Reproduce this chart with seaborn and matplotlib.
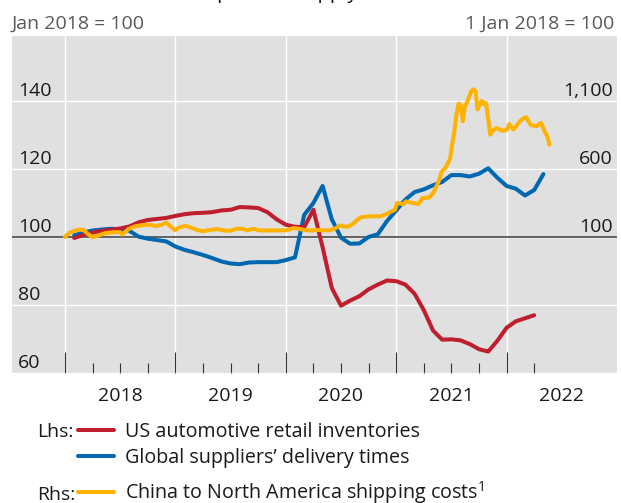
import matplotlib
matplotlib.use("Agg")
import matplotlib.pyplot as plt
import matplotlib.transforms as mtransforms
from matplotlib.lines import Line2D
import pandas as pd
import seaborn as sns

# Lhs series, monthly from Feb 2018 (Jan 2018 = 100)
auto_inventories = [99.7, 100.6, 101.3, 101.8, 102.1, 102.5, 103.1, 104.3, 105.0, 105.3,
                    105.6, 106.2, 106.7, 107.0, 107.1, 107.3, 107.8, 108.0, 108.8, 108.7,
                    108.5, 107.3, 105.2, 103.6, 103.0, 102.9, 108.0, 97.0, 85.0, 79.8,
                    81.3, 82.6, 84.6, 86.0, 87.2, 87.0, 86.0, 83.3, 78.5, 72.5,
                    69.8, 69.9, 69.6, 68.5, 67.0, 66.3, 69.5, 73.3, 75.2, 76.1, 77.0]
delivery_times = [100.5, 101.3, 101.9, 102.2, 102.4, 102.3, 101.8, 100.1, 99.5, 99.1,
                  98.7, 97.2, 96.2, 95.5, 94.7, 93.8, 92.8, 92.2, 92.0, 92.5,
                  92.6, 92.6, 92.6, 93.2, 94.0, 106.5, 110.0, 115.0, 105.2, 99.8,
                  98.0, 98.1, 100.0, 100.8, 104.7, 107.8, 111.0, 113.2, 114.0, 115.2,
                  116.2, 118.2, 118.2, 117.8, 118.6, 120.2, 117.4, 115.0, 114.2, 112.2,
                  113.8, 118.5]

# Rhs series, weekly (weeks since 1 Jan 2018), 1 Jan 2018 = 100
ship_week = [0, 2, 5, 7, 9, 11, 13, 16, 19, 23, 26, 27, 30, 33, 37, 40, 43, 46, 48, 50,
             52, 54, 57, 60, 63, 65, 68, 72, 75, 78, 81, 84, 86, 89, 92, 95, 98, 102, 105, 108,
             110, 112, 115, 117, 119, 121, 125, 128, 130, 132, 134, 136, 138, 140, 144, 146, 149, 152, 156, 157,
             160, 161, 164, 167, 169, 172, 174, 176, 177, 178, 180, 182, 183, 184, 185, 186, 187, 188, 189, 190,
             192, 193, 194, 195, 196, 197, 198, 199, 201, 202, 204, 207, 209, 210, 212, 215, 217, 218, 220, 221,
             223, 224, 225, 227, 228, 229]
ship_costs = [100, 130, 148, 155, 148, 120, 98, 112, 128, 135, 135, 118, 158, 178, 188, 190, 180, 192, 205, 175,
              150, 170, 182, 165, 150, 142, 150, 158, 148, 145, 160, 160, 148, 160, 148, 148, 148, 148, 150, 165,
              162, 155, 148, 148, 152, 150, 148, 165, 185, 175, 178, 195, 225, 245, 252, 252, 252, 270, 300, 350,
              340, 362, 350, 342, 388, 388, 422, 488, 525, 580, 612, 675, 780, 875, 1000, 1080, 1072, 950, 1062, 1090,
              1172, 1185, 1172, 1038, 1075, 1100, 1075, 1085, 852, 880, 900, 880, 890, 930, 890, 950, 975, 980, 925, 920,
              915, 930, 938, 865, 838, 778]

years = [2018, 2019, 2020, 2021, 2022]
lhs_ticks = [60, 80, 100, 120, 140]
rhs_ticks = [100, 600, 1100]

RED = "#be1e2d"
BLUE = "#0067b1"
YELLOW = "#ffb300"
GREY_BG = "#e0e0e0"

sns.set_theme(style="white")
plt.rcParams["font.family"] = ["Open Sans", "DejaVu Sans"]
plt.rcParams["mathtext.fontset"] = "custom"
plt.rcParams["mathtext.rm"] = "Open Sans"

months = pd.date_range("2018-02-01", periods=len(auto_inventories), freq="MS")
inv_df = pd.DataFrame({"x": months.year + (months.month - 1) / 12, "y": auto_inventories})
months_b = pd.date_range("2018-02-01", periods=len(delivery_times), freq="MS")
del_df = pd.DataFrame({"x": months_b.year + (months_b.month - 1) / 12, "y": delivery_times})
ship_df = pd.DataFrame({"x": [2018 + w * 7 / 365.25 for w in ship_week], "y": ship_costs})

W, H = 621, 503
fig = plt.figure(figsize=(W / 100, H / 100), dpi=100)
ax = fig.add_axes([12 / W, (H - 373) / H, 605 / W, 337 / H])
ax.set_facecolor(GREY_BG)
for s in ax.spines.values():
    s.set_visible(False)

lo, hi = 60, 159.1
ax.set_ylim(lo, hi)
ax.set_xlim(2017.52, 2023.0)

sns.lineplot(data=del_df, x="x", y="y", ax=ax, color=BLUE, lw=2.9, zorder=3)
sns.lineplot(data=inv_df, x="x", y="y", ax=ax, color=RED, lw=2.9, zorder=4)
ax.set_xlabel("")
ax.set_ylabel("")

ax2 = ax.twinx()
ax2.set_ylim(100 + (lo - 100) * 25, 100 + (hi - 100) * 25)
sns.lineplot(data=ship_df, x="x", y="y", ax=ax2, color=YELLOW, lw=2.9, zorder=5)
ax2.set_xlim(2017.52, 2023.0)
ax2.set_yticks([])
ax2.set_ylabel("")
for s in ax2.spines.values():
    s.set_visible(False)

# grid and ticks (after twinx, which resets the left ticks)
ax.set_yticks(lhs_ticks)
ax.set_xticks(years)
ax.set_xticks([y + q / 4 for y in years for q in (1, 2, 3) if y + q / 4 <= 2022.25], minor=True)
ax.grid(True, which="major", color="white", lw=1.0)
ax.set_axisbelow(True)
ax.tick_params(axis="y", which="both", left=False, right=False, labelleft=False, labelright=False)
ax2.tick_params(axis="both", which="both", left=False, right=False, bottom=False,
                labelleft=False, labelright=False, labelbottom=False)
ax.tick_params(axis="x", which="major", direction="in", length=15, width=0.8, color="#333333",
               labelbottom=False, bottom=True)
ax.tick_params(axis="x", which="minor", direction="in", length=7.3, width=0.8, color="#333333",
               bottom=True)
ax.axhline(100, color="#3a3a3a", lw=1.1, zorder=2)

# axis labels inside the panel
lab_off = mtransforms.offset_copy(ax.get_yaxis_transform(), fig=fig, x=0, y=5, units="dots")
for v in lhs_ticks:
    ax.text(6 / 605, v, str(v), transform=lab_off, ha="left", va="baseline",
            fontsize=14, color="#1a1a1a")
lab_off2 = mtransforms.offset_copy(ax2.get_yaxis_transform(), fig=fig, x=0, y=5, units="dots")
for v in rhs_ticks:
    ax2.text(601 / 605, v, f"{v:,}", transform=lab_off2, ha="right", va="baseline",
             fontsize=14, color="#1a1a1a")

for y in years:
    ax.text(y + 0.5, (373 - 401) / 337, str(y), transform=ax.get_xaxis_transform(),
            ha="center", va="baseline", fontsize=14, color="#1a1a1a")

# header
fig.text(310 / W, 1 + 1.5 / H, "Car output and supply bottlenecks", ha="center", va="baseline",
         fontsize=14.5, color="#1a1a1a")
fig.text(12 / W, 1 - 29 / H, "Jan 2018 = 100", ha="left", va="baseline", fontsize=14, color="#595959")
fig.text(614 / W, 1 - 29 / H, "1 Jan 2018 = 100", ha="right", va="baseline", fontsize=14, color="#595959")

# legend
def fy(p):
    return 1 - p / H

fig.text(37 / W, fy(437), "Lhs:", fontsize=14, color="#1a1a1a", va="baseline")
fig.text(37 / W, fy(500), "Rhs:", fontsize=14, color="#1a1a1a", va="baseline")
items = [(RED, 430, 437, "US automotive retail inventories"),
         (BLUE, 456, 463, "Global suppliers\u2019 delivery times"),
         (YELLOW, 492, 499, "China to North America shipping costs$^{1}$")]
for col, ly, by, label in items:
    fig.add_artist(Line2D([78 / W, 114 / W], [fy(ly), fy(ly)], color=col, lw=2.9,
                          transform=fig.transFigure))
    fig.text(125 / W, fy(by), label, fontsize=14.2, color="#1a1a1a", va="baseline")

fig.savefig("out.png", dpi=100)
